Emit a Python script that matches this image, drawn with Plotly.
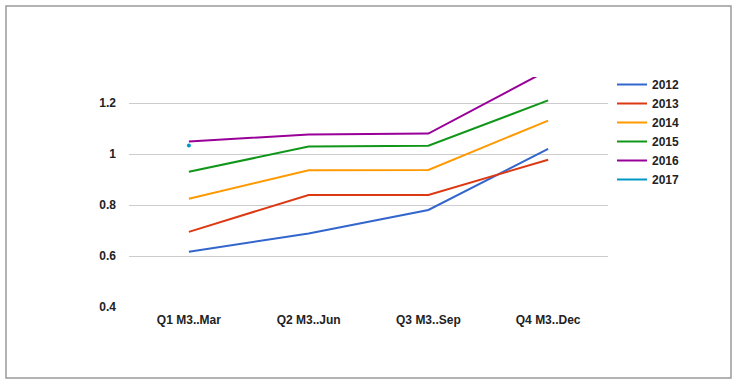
import plotly.graph_objects as go

categories = ["Q1 M3..Mar", "Q2 M3..Jun", "Q3 M3..Sep", "Q4 M3..Dec"]
years = ["2012", "2013", "2014", "2015", "2016", "2017"]
s2012 = [0.617, 0.689, 0.781, 1.021]
s2013 = [0.695, 0.840, 0.840, 0.978]
s2014 = [0.825, 0.937, 0.938, 1.132]
s2015 = [0.931, 1.030, 1.033, 1.211]
s2016 = [1.050, 1.077, 1.081, 1.330]
s2017 = [1.034, None, None, None]
series = [s2012, s2013, s2014, s2015, s2016, s2017]
colors = ["#3366cc", "#dc3912", "#ff9900", "#109618", "#990099", "#0099c6"]
tick_vals = [0.4, 0.6, 0.8, 1.0, 1.2]
tick_text = ["0.4", "0.6", "0.8", "1", "1.2"]

FONT = "Liberation Sans, Arial, sans-serif"
TXT = dict(family=FONT, size=12, color="#222222", weight="bold")

fig = go.Figure()
for name, vals, col in zip(years, series, colors):
    fig.add_trace(go.Scatter(
        x=categories, y=vals, name=name, legendgroup=name,
        mode="lines", line=dict(color=col, width=2),
        connectgaps=False,
    ))
    # isolated points (no neighbours) are drawn as dots
    iso_x, iso_y = [], []
    for i, v in enumerate(vals):
        prev_ok = i > 0 and vals[i - 1] is not None
        next_ok = i < len(vals) - 1 and vals[i + 1] is not None
        if v is not None and not prev_ok and not next_ok:
            iso_x.append(categories[i])
            iso_y.append(v)
    if iso_x:
        fig.add_trace(go.Scatter(
            x=iso_x, y=iso_y, name=name, legendgroup=name, showlegend=False,
            mode="markers", marker=dict(color=col, size=4),
        ))

W, H = 739, 385
L, R, T, B = 129, 131, 77, 78
pw, ph = W - L - R, H - T - B

def px2x(px):
    return (px - L) / pw

def py2y(py):
    return (H - B - py) / ph

fig.add_shape(type="rect", xref="paper", yref="paper",
              x0=px2x(6), x1=px2x(731), y0=py2y(378), y1=py2y(6),
              line=dict(color="#9a9a9a", width=1.5), layer="below")

fig.update_layout(
    width=W, height=H,
    margin=dict(l=L, r=R, t=T, b=B),
    paper_bgcolor="white", plot_bgcolor="white",
    font=TXT,
    showlegend=True,
    legend=dict(x=px2x(612), y=py2y(70), xanchor="left", yanchor="top",
                font=TXT, bgcolor="rgba(0,0,0,0)", tracegroupgap=0),
    xaxis=dict(showgrid=False, zeroline=False, showline=False, ticks="",
               tickfont=TXT, ticklabelstandoff=4,
               range=[-0.5, 3.5]),
    yaxis=dict(range=[0.4, 1.303], tickvals=tick_vals, ticktext=tick_text,
               showgrid=True, gridcolor="#cccccc", gridwidth=1,
               zeroline=False, showline=False, ticks="",
               ticklabelstandoff=12,
               tickfont=TXT),
)

fig.write_html("out.html", config={"displayModeBar": False},
               post_script="document.body.style.margin='0';")
